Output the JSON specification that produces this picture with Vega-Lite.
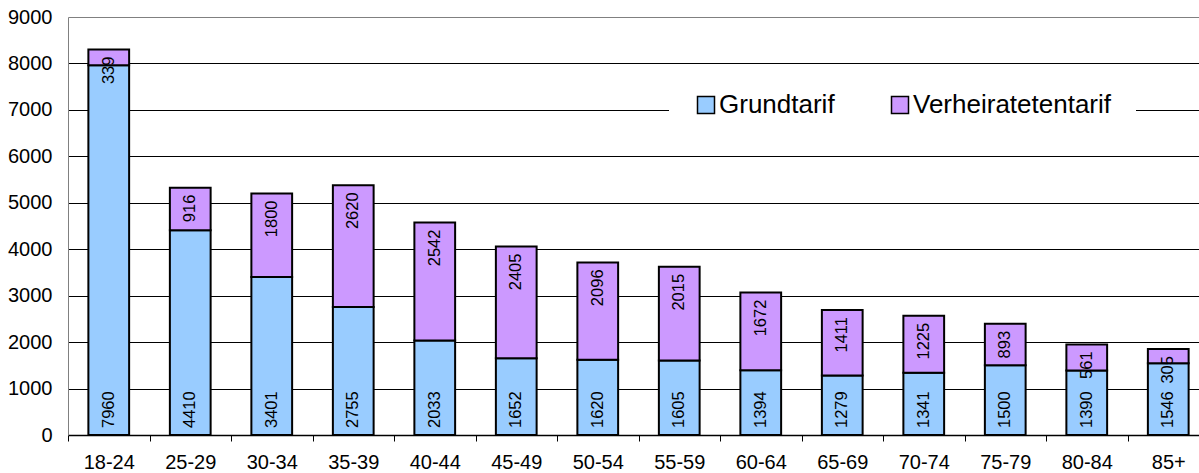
{
  "$schema": "https://vega.github.io/schema/vega-lite/v6.json",
  "width": 1131,
  "height": 418,
  "autosize": {"type": "none"},
  "padding": {"left": 68, "top": 17, "right": 0, "bottom": 38},
  "background": "white",
  "config": {"font": "Liberation Sans", "view": {"stroke": null}},
  "data": {"values": [
    {"age": "18-24", "tarif": "Grundtarif", "value": 7960},
    {"age": "18-24", "tarif": "Verheiratetentarif", "value": 339},
    {"age": "25-29", "tarif": "Grundtarif", "value": 4410},
    {"age": "25-29", "tarif": "Verheiratetentarif", "value": 916},
    {"age": "30-34", "tarif": "Grundtarif", "value": 3401},
    {"age": "30-34", "tarif": "Verheiratetentarif", "value": 1800},
    {"age": "35-39", "tarif": "Grundtarif", "value": 2755},
    {"age": "35-39", "tarif": "Verheiratetentarif", "value": 2620},
    {"age": "40-44", "tarif": "Grundtarif", "value": 2033},
    {"age": "40-44", "tarif": "Verheiratetentarif", "value": 2542},
    {"age": "45-49", "tarif": "Grundtarif", "value": 1652},
    {"age": "45-49", "tarif": "Verheiratetentarif", "value": 2405},
    {"age": "50-54", "tarif": "Grundtarif", "value": 1620},
    {"age": "50-54", "tarif": "Verheiratetentarif", "value": 2096},
    {"age": "55-59", "tarif": "Grundtarif", "value": 1605},
    {"age": "55-59", "tarif": "Verheiratetentarif", "value": 2015},
    {"age": "60-64", "tarif": "Grundtarif", "value": 1394},
    {"age": "60-64", "tarif": "Verheiratetentarif", "value": 1672},
    {"age": "65-69", "tarif": "Grundtarif", "value": 1279},
    {"age": "65-69", "tarif": "Verheiratetentarif", "value": 1411},
    {"age": "70-74", "tarif": "Grundtarif", "value": 1341},
    {"age": "70-74", "tarif": "Verheiratetentarif", "value": 1225},
    {"age": "75-79", "tarif": "Grundtarif", "value": 1500},
    {"age": "75-79", "tarif": "Verheiratetentarif", "value": 893},
    {"age": "80-84", "tarif": "Grundtarif", "value": 1390},
    {"age": "80-84", "tarif": "Verheiratetentarif", "value": 561},
    {"age": "85+", "tarif": "Grundtarif", "value": 1546},
    {"age": "85+", "tarif": "Verheiratetentarif", "value": 305}
  ]},
  "transform": [
    {"stack": "value", "groupby": ["age"], "sort": [{"field": "tarif", "order": "ascending"}], "as": ["y0", "y1"]}
  ],
  "encoding": {
    "x": {
      "field": "age", "type": "nominal", "sort": null,
      "scale": {"paddingInner": 0, "paddingOuter": 0, "range": [0, 1141]},
      "axis": {
        "title": null, "tickBand": "extent", "tickSize": 6, "tickColor": "black",
        "domainColor": "black", "domainWidth": 1.5, "labelFontSize": 20,
        "labelPadding": 11, "labelAngle": 0, "labelColor": "black", "grid": false
      }
    }
  },
  "layer": [
    {
      "mark": {"type": "bar", "width": {"band": 0.5}, "stroke": "black", "strokeWidth": 2},
      "encoding": {
        "y": {
          "field": "y0", "type": "quantitative",
          "scale": {"domain": [0, 9000], "nice": false},
          "axis": {
            "title": null, "values": [0, 1000, 2000, 3000, 4000, 5000, 6000, 7000, 8000, 9000],
            "format": "d",
            "grid": true,
            "gridColor": {"condition": {"test": "datum.value == 9000", "value": "#808080"}, "value": "black"},
            "gridWidth": 1, "domainColor": "#808080", "ticks": false, "tickSize": 0,
            "labelFontSize": 20, "labelPadding": 16, "labelColor": "black"
          }
        },
        "y2": {"field": "y1"},
        "color": {
          "field": "tarif", "type": "nominal",
          "scale": {"domain": ["Grundtarif", "Verheiratetentarif"], "range": ["#99CCFF", "#CC99FF"]},
          "legend": {
            "orient": "none", "legendX": 601, "legendY": 51, "direction": "horizontal",
            "title": null, "fillColor": "white", "padding": 24, "labelFontSize": 26,
            "labelLimit": 400,
            "symbolType": "square", "symbolSize": 289, "symbolStrokeColor": "black",
            "symbolStrokeWidth": 1.5, "labelOffset": 0, "columnPadding": 52, "labelColor": "black"
          }
        }
      }
    },
    {
      "transform": [{"filter": "datum.tarif == 'Grundtarif'"}],
      "mark": {"type": "text", "angle": 270, "align": "left", "baseline": "middle", "dx": 7, "fontSize": 16.5, "color": "black"},
      "encoding": {
        "y": {"field": "y0", "type": "quantitative"},
        "text": {"field": "value", "type": "quantitative", "format": "d"}
      }
    },
    {
      "transform": [{"filter": "datum.tarif == 'Verheiratetentarif'"}],
      "mark": {"type": "text", "angle": 270, "align": "right", "baseline": "middle", "dx": -7, "fontSize": 16.5, "color": "black"},
      "encoding": {
        "y": {"field": "y1", "type": "quantitative"},
        "text": {"field": "value", "type": "quantitative", "format": "d"}
      }
    }
  ]
}
